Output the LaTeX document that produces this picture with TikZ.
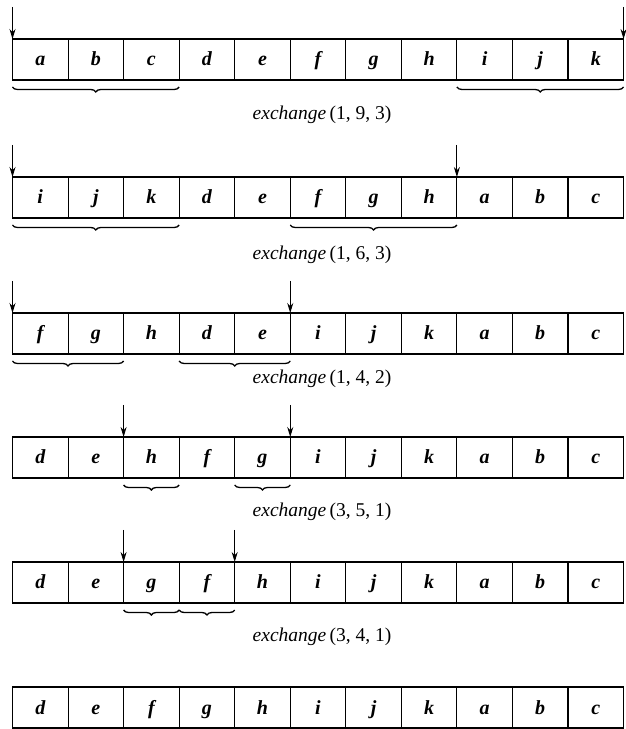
\documentclass[tikz,border=0pt]{standalone}
\usepackage{fontspec}
\setmainfont{Liberation Serif}
\usetikzlibrary{arrows.meta, decorations.pathreplacing, calc, positioning}

\tikzset{
  cell/.style={draw, line width=1.1pt, minimum width=55.55pt, minimum height=41pt,
    inner sep=0pt, outer sep=0pt, anchor=north west, text height=16pt, text depth=3pt,
    font=\fontsize{20}{22}\selectfont\bfseries\itshape},
  frame/.style={line width=1.7pt},
  ptr/.style={-{Stealth[length=10pt, width=6pt]}, line width=0.9pt},
  grp/.style={decorate, decoration={brace, mirror, amplitude=5pt}, line width=1.3pt},
  lbl/.style={font=\fontsize{19.5}{22}\selectfont}
}

\begin{document}
\begin{tikzpicture}[x=1pt, y=1pt]
  \useasboundingbox (0,0) rectangle (626,729);

  % Row 1: swap abc with ijk
  \foreach \ch [count=\i] in {a,b,c,d,e,f,g,h,i,j,k}
    \node[cell] (r1-\i) at ({12.5+(\i-1)*55.55}, 690) {\ch};
  \draw[frame] (r1-1.north west) rectangle (r1-11.south east);
  \coordinate[above=32pt of r1-1.north west] (p1a);
  \coordinate[above=32pt of r1-11.north east] (p1b);
  \draw[ptr] (p1a) -- (r1-1.north west);
  \draw[ptr] (p1b) -- (r1-11.north east);
  \draw[grp] ($(r1-1.south west)+(0,-7)$) -- ($(r1-3.south east)+(0,-7)$);
  \draw[grp] ($(r1-9.south west)+(0,-7)$) -- ($(r1-11.south east)+(0,-7)$);
  \node[lbl] (x1) at (322, 614) {\textit{exchange}\,(1, 9, 3)};

  % Row 2: swap ijk with fgh
  \foreach \ch [count=\i] in {i,j,k,d,e,f,g,h,a,b,c}
    \node[cell] (r2-\i) at ({12.5+(\i-1)*55.55}, 552) {\ch};
  \draw[frame] (r2-1.north west) rectangle (r2-11.south east);
  \coordinate[above=32pt of r2-1.north west] (p2a);
  \coordinate[above=32pt of r2-8.north east] (p2b);
  \draw[ptr] (p2a) -- (r2-1.north west);
  \draw[ptr] (p2b) -- (r2-8.north east);
  \draw[grp] ($(r2-1.south west)+(0,-7)$) -- ($(r2-3.south east)+(0,-7)$);
  \draw[grp] ($(r2-6.south west)+(0,-7)$) -- ($(r2-8.south east)+(0,-7)$);
  \node[lbl] (x2) at (322, 474) {\textit{exchange}\,(1, 6, 3)};

  % Row 3: swap fg with de
  \foreach \ch [count=\i] in {f,g,h,d,e,i,j,k,a,b,c}
    \node[cell] (r3-\i) at ({12.5+(\i-1)*55.55}, 416) {\ch};
  \draw[frame] (r3-1.north west) rectangle (r3-11.south east);
  \coordinate[above=32pt of r3-1.north west] (p3a);
  \coordinate[above=32pt of r3-5.north east] (p3b);
  \draw[ptr] (p3a) -- (r3-1.north west);
  \draw[ptr] (p3b) -- (r3-5.north east);
  \draw[grp] ($(r3-1.south west)+(0,-7)$) -- ($(r3-2.south east)+(0,-7)$);
  \draw[grp] ($(r3-4.south west)+(0,-7)$) -- ($(r3-5.south east)+(0,-7)$);
  \node[lbl] (x3) at (322, 350) {\textit{exchange}\,(1, 4, 2)};

  % Row 4: swap h with g
  \foreach \ch [count=\i] in {d,e,h,f,g,i,j,k,a,b,c}
    \node[cell] (r4-\i) at ({12.5+(\i-1)*55.55}, 292) {\ch};
  \draw[frame] (r4-1.north west) rectangle (r4-11.south east);
  \coordinate[above=32pt of r4-2.north east] (p4a);
  \coordinate[above=32pt of r4-5.north east] (p4b);
  \draw[ptr] (p4a) -- (r4-2.north east);
  \draw[ptr] (p4b) -- (r4-5.north east);
  \draw[grp] ($(r4-3.south west)+(0,-7)$) -- ($(r4-3.south east)+(0,-7)$);
  \draw[grp] ($(r4-5.south west)+(0,-7)$) -- ($(r4-5.south east)+(0,-7)$);
  \node[lbl] (x4) at (322, 217) {\textit{exchange}\,(3, 5, 1)};

  % Row 5: swap g with f
  \foreach \ch [count=\i] in {d,e,g,f,h,i,j,k,a,b,c}
    \node[cell] (r5-\i) at ({12.5+(\i-1)*55.55}, 167) {\ch};
  \draw[frame] (r5-1.north west) rectangle (r5-11.south east);
  \coordinate[above=32pt of r5-2.north east] (p5a);
  \coordinate[above=32pt of r5-4.north east] (p5b);
  \draw[ptr] (p5a) -- (r5-2.north east);
  \draw[ptr] (p5b) -- (r5-4.north east);
  \draw[grp] ($(r5-3.south west)+(0,-7)$) -- ($(r5-3.south east)+(0,-7)$);
  \draw[grp] ($(r5-4.south west)+(0,-7)$) -- ($(r5-4.south east)+(0,-7)$);
  \node[lbl] (x5) at (322, 92) {\textit{exchange}\,(3, 4, 1)};

  % Row 6: result
  \foreach \ch [count=\i] in {d,e,f,g,h,i,j,k,a,b,c}
    \node[cell] (r6-\i) at ({12.5+(\i-1)*55.55}, 42) {\ch};
  \draw[frame] (r6-1.north west) rectangle (r6-11.south east);

\end{tikzpicture}
\end{document}
